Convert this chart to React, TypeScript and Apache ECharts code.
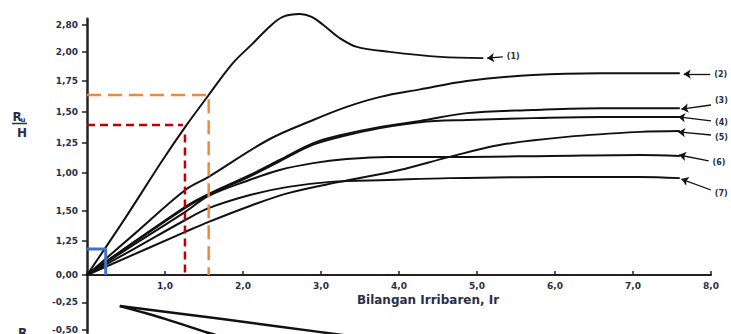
import React, { useEffect, useRef } from "react";
import * as echarts from "echarts";

// y positions (in drawing units) of the printed tick labels, and their texts as printed
const yTickPos = [-1.79, -0.9, 0, 1.09, 2.05, 3.26, 4.22, 5.22, 6.21, 7.14, 8.0];
const yTickLabels = ["-0,50", "-0,25", "0,00", "1,25", "1,50", "1,00", "1,25", "1,50", "1,75", "2,00", "2,80"];

// curves (x = Irribaren number, y = drawing units)
const c1X = [0, 0.49, 0.97, 1.26, 1.56, 1.87, 2.13, 2.35, 2.51, 2.73, 2.88, 3.03, 3.24, 3.46, 3.88, 4.53, 5.08];
const c1Y = [0, 1.82, 3.68, 4.74, 5.76, 6.78, 7.42, 7.97, 8.26, 8.35, 8.26, 8.0, 7.58, 7.3, 7.14, 6.98, 6.94];

const c2X = [0, 0.62, 1.26, 1.56, 2.32, 2.9, 3.33, 3.76, 4.27, 4.87, 5.72, 6.58, 7.6];
const c2Y = [0, 1.34, 2.72, 3.14, 4.32, 4.96, 5.38, 5.7, 5.94, 6.21, 6.4, 6.46, 6.46];

const c34X = [0, 1.26, 1.56, 2.09, 2.47, 2.9, 3.26, 3.76, 4.27, 4.87, 5.72, 6.58, 7.6];
const c3Y = [0, 2.18, 2.59, 3.2, 3.68, 4.22, 4.48, 4.74, 4.93, 5.18, 5.28, 5.34, 5.34];
const c4Y = [0, 2.15, 2.56, 3.16, 3.64, 4.17, 4.43, 4.7, 4.89, 4.96, 5.02, 5.06, 5.06];

const c5X = [0, 1.26, 1.56, 2.09, 2.58, 3.24, 4.01, 4.65, 5.29, 6.15, 7.09, 7.6];
const c5Y = [0, 1.38, 1.7, 2.21, 2.62, 2.98, 3.36, 3.78, 4.16, 4.42, 4.58, 4.61];

const c6X = [0, 0.62, 1.26, 1.56, 2.05, 2.47, 2.9, 3.33, 3.86, 4.65, 5.94, 7.09, 7.6];
const c6Y = [0, 1.0, 2.02, 2.53, 3.01, 3.36, 3.58, 3.71, 3.78, 3.78, 3.81, 3.84, 3.81];

const c7X = [0, 0.62, 1.26, 1.56, 2.09, 2.58, 3.12, 3.86, 4.65, 5.94, 7.09, 7.6];
const c7Y = [0, 0.86, 1.76, 2.14, 2.56, 2.82, 2.98, 3.04, 3.1, 3.14, 3.14, 3.1];

// run-down curves (below zero)
const dAX = [0.42, 1.71, 2.95, 3.3];
const dAY = [-1.02, -1.44, -1.86, -1.98];
const dBX = [0.42, 1.0, 1.54, 1.66];
const dBY = [-1.02, -1.44, -1.89, -1.98];

// curve labels: [label, tailX, tailY, headX, headY, label dy]
const curveLabels: [string, number, number, number, number, number][] = [
  ["(1)", 5.33, 6.98, 5.13, 6.94, 0],
  ["(2)", 7.99, 6.43, 7.65, 6.43, 0],
  ["(3)", 8.0, 5.44, 7.62, 5.31, -4],
  ["(4)", 8.0, 4.93, 7.58, 5.06, 1],
  ["(5)", 8.0, 4.48, 7.58, 4.58, 2],
  ["(6)", 7.97, 3.65, 7.59, 3.84, 1],
  ["(7)", 8.0, 2.72, 7.62, 3.07, 2],
];

// guide lines
const redH = [[0, 4.8], [1.23, 4.8]];
const redV = [[1.256, 4.5], [1.256, 0]];
const orangeGuide = [[0, 5.76], [1.56, 5.76], [1.56, 0]];
const blueGuide = [[0, 0.83], [0.24, 0.83], [0.24, 0]];

const FONT = '"DejaVu Sans", "Liberation Sans", Arial, sans-serif';
const TXT = "#2a2f45";

const pts = (xs: number[], ys: number[]) => xs.map((x, i) => [x, ys[i]]);

export default function App() {
  const ref = useRef<HTMLDivElement>(null);
  useEffect(() => {
    if (!ref.current) return;
    const chart = echarts.init(ref.current, undefined, { renderer: "svg" });

    const curveSets = [
      [c1X, c1Y],
      [c2X, c2Y],
      [c34X, c3Y],
      [c34X, c4Y],
      [c5X, c5Y],
      [c6X, c6Y],
      [c7X, c7Y],
    ];

    const curveSeries: any[] = curveSets.map(([xs, ys], i) => {
      const [lab, tx, ty, hx, hy, dy] = curveLabels[i];
      return {
        type: "line",
        xAxisIndex: 0,
        yAxisIndex: 0,
        data: pts(xs, ys),
        showSymbol: false,
        smooth: 0.35,
        clip: false,
        silent: true,
        lineStyle: { color: "#111", width: 2 },
        markLine: {
          silent: true,
          symbol: ["none", "arrow"],
          symbolSize: 7,
          lineStyle: { color: "#111", width: 1.3, type: "solid" },
          label: {
            show: true,
            position: "start",
            distance: 4,
            offset: [0, dy],
            formatter: lab,
            fontFamily: FONT,
            fontWeight: "bold",
            fontSize: 8,
            color: TXT,
          },
          data: [[{ coord: [tx, ty] }, { coord: [hx, hy] }]],
        },
      };
    });

    const negSeries: any[] = [
      [dAX, dAY],
      [dBX, dBY],
    ].map(([xs, ys]) => ({
      type: "line",
      xAxisIndex: 1,
      yAxisIndex: 1,
      data: pts(xs, ys),
      showSymbol: false,
      smooth: 0.3,
      clip: true,
      silent: true,
      lineStyle: { color: "#111", width: 2.5 },
    }));

    const guide = (data: number[][], color: string, width: number, type: any) => ({
      type: "line",
      xAxisIndex: 0,
      yAxisIndex: 0,
      data,
      showSymbol: false,
      silent: true,
      clip: false,
      lineStyle: { color, width, type, cap: "butt" },
      z: 3,
    });

    const yLabelFmt = (v: number) => {
      const i = yTickPos.findIndex((p) => Math.abs(p - Number(v)) < 1e-6);
      return i >= 0 ? yTickLabels[i] : "";
    };
    const yLabelStyle = {
      margin: 9,
      fontFamily: FONT,
      fontWeight: "bold",
      fontSize: 9,
      color: TXT,
      formatter: yLabelFmt,
    };
    const upperTicks = yTickPos.filter((p) => p >= 0);
    const lowerTicks = yTickPos.filter((p) => p < 0);

    chart.setOption({
      animation: false,
      grid: [
        { left: 87, right: 20, top: 18.75, bottom: 59 },
        { left: 87, right: 20, top: 275, bottom: 0 },
      ],
      xAxis: [
        {
          type: "value",
          gridIndex: 0,
          min: 0,
          max: 8,
          interval: 1,
          axisLine: { onZero: false, lineStyle: { color: "#222", width: 2 } },
          axisTick: { show: true, inside: true, length: 4, lineStyle: { color: "#222", width: 1.5 } },
          axisLabel: {
            margin: 6,
            fontFamily: FONT,
            fontWeight: "bold",
            fontSize: 9,
            color: TXT,
            formatter: (v: number) => (Number(v) === 0 ? "" : Number(v).toFixed(1).replace(".", ",")),
          },
          splitLine: { show: false },
        },
        {
          type: "value",
          gridIndex: 1,
          min: 0,
          max: 8,
          show: false,
        },
      ],
      yAxis: [
        {
          type: "value",
          gridIndex: 0,
          min: 0,
          max: 8.2,
          axisLine: { show: true, lineStyle: { color: "#222", width: 2.5 } },
          axisTick: { show: true, length: 5, lineStyle: { color: "#222", width: 1.5 }, customValues: upperTicks },
          axisLabel: { ...yLabelStyle, customValues: upperTicks },
          splitLine: { show: false },
        },
        {
          type: "value",
          gridIndex: 1,
          min: -1.9,
          max: 0,
          axisLine: { show: true, onZero: false, lineStyle: { color: "#222", width: 2.5 } },
          axisTick: { show: true, length: 5, lineStyle: { color: "#222", width: 1.5 }, customValues: lowerTicks },
          axisLabel: { ...yLabelStyle, customValues: lowerTicks },
          splitLine: { show: false },
        },
      ],
      graphic: [
        {
          type: "text",
          x: 428,
          y: 300,
          style: {
            text: "Bilangan Irribaren, Ir",
            font: `bold 12px ${FONT}`,
            fill: TXT,
            align: "center",
            verticalAlign: "middle",
            textAlign: "center",
            textVerticalAlign: "middle",
          },
        },
        {
          type: "text",
          x: 12.5,
          y: 116.5,
          style: { text: "R", font: `bold 12px ${FONT}`, fill: TXT, align: "left", verticalAlign: "middle", textAlign: "left", textVerticalAlign: "middle" },
        },
        {
          type: "text",
          x: 20.5,
          y: 119.5,
          style: { text: "u", font: `bold 7px ${FONT}`, fill: TXT, align: "left", verticalAlign: "middle", textAlign: "left", textVerticalAlign: "middle" },
        },
        {
          type: "line",
          shape: { x1: 12, y1: 123.5, x2: 27, y2: 123.5 },
          style: { stroke: TXT, lineWidth: 1.5 },
        },
        {
          type: "text",
          x: 22,
          y: 132.5,
          style: { text: "H", font: `bold 12px ${FONT}`, fill: TXT, align: "center", verticalAlign: "middle", textAlign: "center", textVerticalAlign: "middle" },
        },
        {
          type: "text",
          x: 18,
          y: 327,
          style: { text: "R", font: `bold 12px ${FONT}`, fill: TXT, align: "left", verticalAlign: "top", textAlign: "left", textVerticalAlign: "top" },
        },
      ],
      series: [
        ...curveSeries,
        ...negSeries,
        guide(redH, "#c00000", 2.5, [8, 5]),
        guide(redV, "#c00000", 2.5, [8, 5]),
        guide(orangeGuide, "#f0883a", 2.5, [14, 7]),
        guide(blueGuide, "#4472c4", 3, "solid"),
      ],
    });
    return () => chart.dispose();
  }, []);

  return (
    <div
      ref={ref}
      style={{ position: "fixed", left: 0, top: 0, width: 731, height: 334, background: "#fff" }}
    />
  );
}
